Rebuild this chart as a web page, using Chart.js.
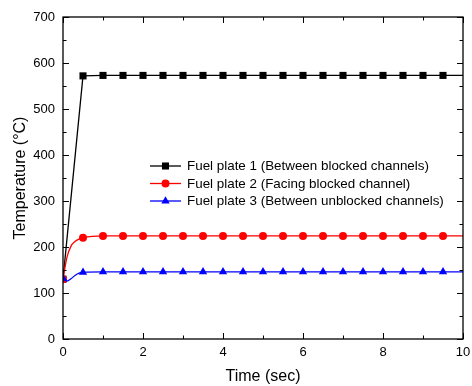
<!DOCTYPE html>
<html>
<head>
<meta charset="utf-8">
<script src="https://cdn.jsdelivr.net/npm/chart.js@4"></script>
<style>
  html, body { margin: 0; padding: 0; background: #fff; }
  #wrap { width: 472px; height: 386px; }
</style>
</head>
<body>
<div id="wrap"><canvas id="tempChart" width="472" height="386"></canvas></div>
<script>
// Time axis (sec) and fuel plate temperatures (degC)
const times = [0, 0.1, 0.2, 0.3, 0.4, 0.5, 1, 1.5, 2, 2.5, 3, 3.5, 4, 4.5, 5, 5.5, 6, 6.5, 7, 7.5, 8, 8.5, 9, 9.5, 10];
const markerTimes = [0, 0.5, 1, 1.5, 2, 2.5, 3, 3.5, 4, 4.5, 5, 5.5, 6, 6.5, 7, 7.5, 8, 8.5, 9, 9.5];
const plate1 = [130, null, null, null, null, 572, 573, 573, 573, 573, 573, 573, 573, 573, 573, 573, 573, 573, 573, 573, 573, 573, 573, 573, 573];
const plate2 = [130, 178, 202, 212, 217, 220, 224, 224, 224, 224, 224, 224, 224, 224, 224, 224, 224, 224, 224, 224, 224, 224, 224, 224, 224];
const plate3 = [132, 126, 131, 138, 143, 145, 146, 146, 146, 146, 146, 146, 146, 146, 146, 146, 146, 146, 146, 146, 146, 146, 146, 146, 146];
const seriesLabels = [
    'Fuel plate 1 (Between blocked channels)',
    'Fuel plate 2 (Facing blocked channel)',
    'Fuel plate 3 (Between unblocked channels)'
];
const xTicks = [0, 2, 4, 6, 8, 10];
const yTicks = [0, 100, 200, 300, 400, 500, 600, 700];

const FONT = 'Arial, "Liberation Sans", sans-serif';

function toPoints(values) {
    return times.map((t, i) => ({ x: t, y: values[i] }));
}

function markerRadius(r) {
    return function(ctx) {
        const t = times[ctx.dataIndex];
        return markerTimes.includes(t) ? r : 0;
    };
}

function makeSeries(label, values, color, style, r, smooth, order) {
    return {
        label: label,
        data: toPoints(values),
        borderColor: color,
        backgroundColor: color,
        borderWidth: 1.3,
        pointStyle: style,
        pointRadius: markerRadius(r),
        pointHoverRadius: markerRadius(r),
        pointBorderWidth: 0,
        pointBackgroundColor: color,
        cubicInterpolationMode: smooth ? 'monotone' : 'default',
        tension: 0,
        spanGaps: true,
        order: order,
        markerR: r
    };
}

// inward ticks on all four sides + frame
const frameTicks = {
    id: 'frameTicks',
    afterDraw(chart) {
        const { ctx, chartArea: a, scales } = chart;
        const xs = scales.x, ys = scales.y;
        ctx.save();
        ctx.strokeStyle = '#000';
        ctx.lineWidth = 1.3;
        ctx.strokeRect(a.left, a.top, a.right - a.left, a.bottom - a.top);
        ctx.lineWidth = 1;
        ctx.beginPath();
        for (let v = 0; v <= 10; v += 1) {
            const len = v % 2 === 0 ? 6 : 3.5;
            const px = Math.round(xs.getPixelForValue(v)) + 0.5;
            ctx.moveTo(px, a.bottom); ctx.lineTo(px, a.bottom - len);
            ctx.moveTo(px, a.top); ctx.lineTo(px, a.top + len);
        }
        for (let v = 0; v <= 700; v += 50) {
            const len = v % 100 === 0 ? 6 : 3.5;
            const py = Math.round(ys.getPixelForValue(v)) + 0.5;
            ctx.moveTo(a.left, py); ctx.lineTo(a.left + len, py);
            ctx.moveTo(a.right, py); ctx.lineTo(a.right - len, py);
        }
        ctx.stroke();
        ctx.restore();
    }
};

// legend drawn inside the plot: line + marker + text
const insideLegend = {
    id: 'insideLegend',
    afterDraw(chart) {
        const { ctx } = chart;
        const rowsY = [166, 183.5, 201];
        ctx.save();
        chart.data.datasets.forEach((ds, i) => {
            const y = rowsY[i];
            ctx.strokeStyle = ds.borderColor;
            ctx.lineWidth = 1.3;
            ctx.beginPath();
            ctx.moveTo(150, y);
            ctx.lineTo(181, y);
            ctx.stroke();
            ctx.fillStyle = ds.borderColor;
            Chart.helpers.drawPoint(ctx, {
                pointStyle: ds.pointStyle, radius: ds.markerR, rotation: 0, borderWidth: 0
            }, 165.5, y);
            ctx.fillStyle = '#000';
            ctx.font = '13.4px ' + FONT;
            ctx.textAlign = 'left';
            ctx.textBaseline = 'middle';
            ctx.fillText(ds.label, 187, y + 0.5);
        });
        ctx.restore();
    }
};

new Chart(document.getElementById('tempChart'), {
    type: 'line',
    data: {
        datasets: [
            makeSeries(seriesLabels[0], plate1, '#000000', 'rect', 5, false, 3),
            makeSeries(seriesLabels[1], plate2, '#ff0000', 'circle', 4, true, 2),
            makeSeries(seriesLabels[2], plate3, '#0000ff', 'triangle', 4.8, true, 1)
        ]
    },
    options: {
        responsive: false,
        animation: false,
        events: [],
        layout: { padding: { top: 17, right: 9, left: 0, bottom: 0 } },
        plugins: {
            legend: { display: false },
            tooltip: { enabled: false }
        },
        scales: {
            x: {
                type: 'linear',
                min: 0,
                max: 10,
                afterFit(scale) {
                    scale.height = 47;
                    scale.paddingLeft = 0;
                    scale.paddingRight = 0;
                },
                afterBuildTicks(scale) { scale.ticks = xTicks.map(v => ({ value: v })); },
                grid: { display: false, drawTicks: false },
                border: { display: false },
                ticks: {
                    padding: 6,
                    color: '#000',
                    maxRotation: 0,
                    font: { family: FONT, size: 13 }
                },
                title: {
                    display: true,
                    text: 'Time (sec)',
                    color: '#000',
                    font: { family: FONT, size: 16 },
                    padding: { top: 0, bottom: 0 }
                }
            },
            y: {
                min: 0,
                max: 700,
                afterFit(scale) {
                    scale.width = 63;
                    scale.paddingTop = 0;
                    scale.paddingBottom = 0;
                },
                afterBuildTicks(scale) { scale.ticks = yTicks.map(v => ({ value: v })); },
                grid: { display: false, drawTicks: false },
                border: { display: false },
                ticks: {
                    padding: 8,
                    color: '#000',
                    font: { family: FONT, size: 13 }
                },
                title: {
                    display: true,
                    text: 'Temperature (\u00B0C)',
                    color: '#000',
                    font: { family: FONT, size: 16 },
                    padding: { top: 11, bottom: 0 }
                }
            }
        }
    },
    plugins: [frameTicks, insideLegend]
});
</script>
</body>
</html>
